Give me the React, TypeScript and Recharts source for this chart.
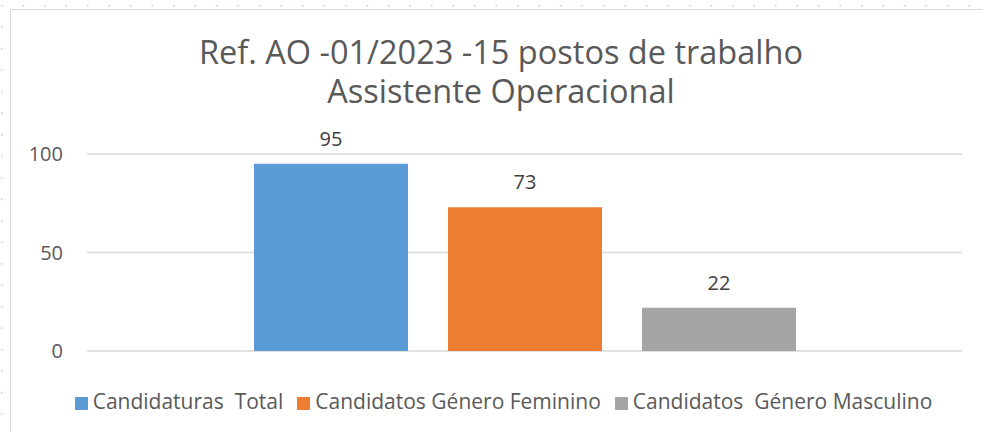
import React from 'react';
import { BarChart, Bar, XAxis, YAxis, CartesianGrid, LabelList } from 'recharts';

const titleLines = ['Ref. AO -01/2023 -15 postos de trabalho', 'Assistente Operacional'];
const categories = ['Assistente Operacional'];
const seriesNames = ['Candidaturas  Total', 'Candidatos Género Feminino', 'Candidatos  Género Masculino'];
const seriesValues = [95, 73, 22];
const seriesColors = ['#5B9BD5', '#ED7D31', '#A5A5A5'];
const yTicks = [0, 50, 100];

const data = categories.map((c) => {
  const row: any = { name: c };
  seriesNames.forEach((s, i) => {
    row['s' + i] = seriesValues[i];
  });
  return row;
});

const FONT = '"Open Sans", sans-serif';

const App = () => {
  return (
    <div
      style={{
        position: 'absolute',
        left: 0,
        top: 0,
        width: 982,
        height: 432,
        overflow: 'hidden',
        background: '#fff',
        backgroundImage: 'radial-gradient(circle, #cfe0f2 1px, transparent 1.2px)',
        backgroundSize: '21.5px 21.5px',
        backgroundPosition: '-9px -5px',
        fontFamily: FONT,
      }}
    >
      <div
        style={{
          position: 'absolute',
          left: 10,
          top: 9,
          width: 990,
          height: 440,
          border: '1.5px solid #D9D9D9',
          background: '#fff',
        }}
      />
      {/* title: both lines in one block */}
      <div
        style={{
          position: 'absolute',
          left: 0,
          width: 1002,
          top: 32,
          textAlign: 'center',
          fontSize: 32.5,
          lineHeight: '39px',
          color: '#595959',
          whiteSpace: 'pre',
        }}
      >
        {titleLines.join('\n')}
      </div>
      <div style={{ position: 'absolute', left: 0, top: 0 }}>
        <BarChart
          width={982}
          height={432}
          data={data}
          margin={{ top: 154, right: 20, bottom: 81, left: 27 }}
          barCategoryGap={167}
          barGap={40}
        >
          <CartesianGrid vertical={false} stroke="#D9D9D9" strokeWidth={1.5} />
          <XAxis dataKey="name" hide />
          <YAxis
            width={60}
            domain={[0, 100]}
            ticks={yTicks}
            axisLine={false}
            tickLine={false}
            tickSize={0}
            tickMargin={24}
            tick={{ fill: '#595959', fontSize: 20, fontFamily: FONT }}
          />
          {seriesNames.map((s, i) => (
            <Bar key={s} dataKey={'s' + i} name={s} fill={seriesColors[i]} isAnimationActive={false}>
              <LabelList
                dataKey={'s' + i}
                position="top"
                offset={18}
                fill="#404040"
                fontSize={20}
                fontFamily={FONT}
              />
            </Bar>
          ))}
        </BarChart>
      </div>
      <div
        style={{
          position: 'absolute',
          left: 0,
          width: 1007,
          top: 388,
          display: 'flex',
          justifyContent: 'center',
          alignItems: 'center',
          gap: 14,
          fontSize: 21,
          color: '#595959',
          lineHeight: '26px',
        }}
      >
        {seriesNames.map((s, i) => (
          <div key={s} style={{ display: 'flex', alignItems: 'center', gap: 5 }}>
            <span
              style={{
                width: 13,
                height: 13,
                background: seriesColors[i],
                display: 'inline-block',
                position: 'relative',
                top: 2,
              }}
            />
            <span style={{ whiteSpace: 'pre' }}>{s}</span>
          </div>
        ))}
      </div>
    </div>
  );
};

export default App;
